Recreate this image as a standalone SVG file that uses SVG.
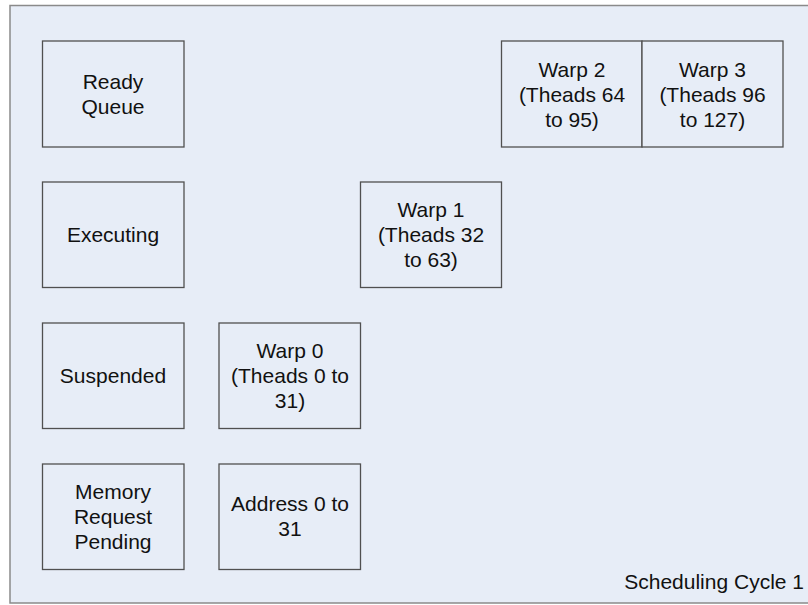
<svg xmlns="http://www.w3.org/2000/svg" width="808" height="605" viewBox="0 0 808 605">
<style>
.frame{fill:#e7edf7;stroke:#8a8a8a;stroke-width:1.5}
.box{fill:#e7edf7;stroke:#505050;stroke-width:1.3}
text{font-family:"Liberation Sans",Arial,sans-serif;font-size:21px;fill:#111;text-anchor:middle}
</style>
<rect x="0" y="0" width="808" height="605" fill="#ffffff"/>
<rect class="frame" x="10" y="5.5" width="800" height="597.5"/>
<g id="ready-queue"><rect class="box" x="42.5" y="41" width="141.5" height="106"/><text x="113" y="89">Ready</text><text x="113" y="114">Queue</text></g>
<g id="executing"><rect class="box" x="42.5" y="182" width="141.5" height="105.5"/><text x="113" y="242">Executing</text></g>
<g id="suspended"><rect class="box" x="42.5" y="323" width="141.5" height="105.5"/><text x="113" y="383">Suspended</text></g>
<g id="memory-request-pending"><rect class="box" x="42.5" y="464" width="141.5" height="105.5"/><text x="113" y="499">Memory</text><text x="113" y="524">Request</text><text x="113" y="549">Pending</text></g>
<g id="warp0"><rect class="box" x="219" y="323" width="141.5" height="105.5"/><text x="290" y="358">Warp 0</text><text x="290" y="383">(Theads 0 to</text><text x="290" y="408">31)</text></g>
<g id="address"><rect class="box" x="219" y="464" width="141.5" height="105.5"/><text x="290" y="511">Address 0 to</text><text x="290" y="536">31</text></g>
<g id="warp1"><rect class="box" x="360.5" y="182" width="141" height="105.5"/><text x="431" y="217">Warp 1</text><text x="431" y="242">(Theads 32</text><text x="431" y="267">to 63)</text></g>
<g id="warp2"><rect class="box" x="501.5" y="41" width="140.5" height="106"/><text x="572" y="76.5">Warp 2</text><text x="572" y="101.5">(Theads 64</text><text x="572" y="126.5">to 95)</text></g>
<g id="warp3"><rect class="box" x="642" y="41" width="141" height="106"/><text x="712.5" y="76.5">Warp 3</text><text x="712.5" y="101.5">(Theads 96</text><text x="712.5" y="126.5">to 127)</text></g>
<g id="connectors"></g>
<text x="804" y="589" style="text-anchor:end">Scheduling Cycle 1</text>
</svg>
